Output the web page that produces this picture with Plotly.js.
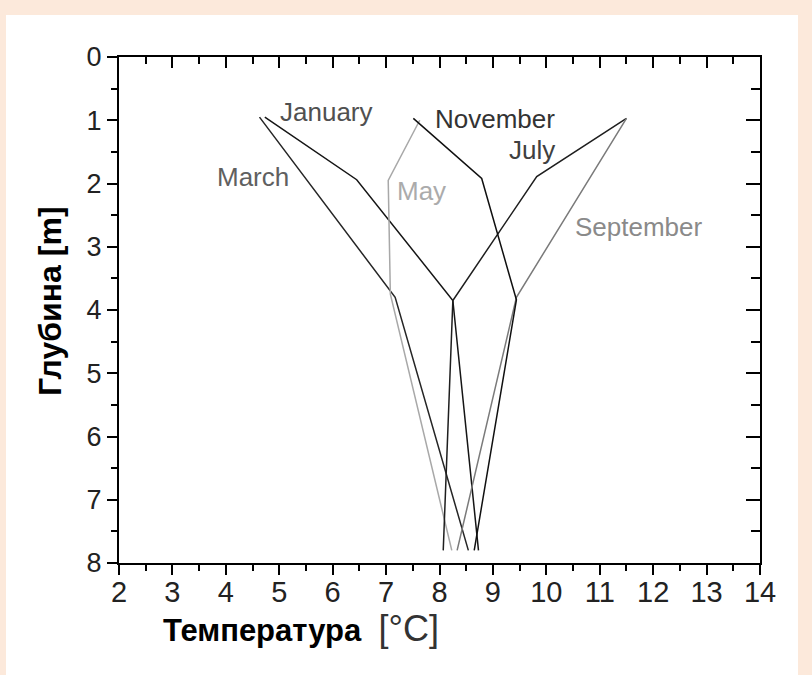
<!DOCTYPE html>
<html>
<head>
<meta charset="utf-8">
<script src="https://cdn.plot.ly/plotly-3.0.1.min.js"></script>
<style>
  html, body { margin: 0; padding: 0; width: 812px; height: 675px; background: #FCE9DB; overflow: hidden; }
  #chart { position: absolute; left: 6px; top: 15px; width: 792px; height: 660px; background: #fff; }
</style>
</head>
<body>
<div id="chart"></div>
<script>
// Series: temperature (°C) vs depth (m)
const seriesNames = ["January", "March", "May", "July", "September", "November"];
const janT = [4.73, 6.45, 8.25, 8.73];
const janD = [0.95, 1.94, 3.85, 7.8];
const marT = [4.63, 7.17, 8.54];
const marD = [0.95, 3.8, 7.8];
const mayT = [7.63, 7.04, 7.08, 8.23];
const mayD = [1.0, 1.95, 3.75, 7.8];
const julT = [11.5, 9.82, 8.25, 8.07];
const julD = [0.97, 1.89, 3.85, 7.8];
const sepT = [11.5, 9.44, 8.33];
const sepD = [0.97, 3.8, 7.8];
const novT = [7.51, 8.79, 9.44, 8.65];
const novD = [0.97, 1.92, 3.84, 7.8];
const xTicks = [2, 3, 4, 5, 6, 7, 8, 9, 10, 11, 12, 13, 14];
const yTicks = [0, 1, 2, 3, 4, 5, 6, 7, 8];
const xTitle = "Температура";
const xUnit = "[°C]";
const yTitle = "Глубина";
const yUnit = "[m]";

const FONT = "Liberation Sans, Arial, sans-serif";

function line(x, y, name, color) {
  return { x: x, y: y, name: name, type: "scatter", mode: "lines",
           line: { color: color, width: 1.5 }, hoverinfo: "skip", showlegend: false };
}

const traces = [
  line(janT, janD, seriesNames[0], "#151515"),
  line(marT, marD, seriesNames[1], "#252525"),
  line(mayT, mayD, seriesNames[2], "#a8a8a8"),
  line(julT, julD, seriesNames[3], "#1e1e1e"),
  line(sepT, sepD, seriesNames[4], "#7a7a7a"),
  line(novT, novD, seriesNames[5], "#101010"),
  { x: [], y: [], xaxis: "x2", yaxis: "y2", type: "scatter", mode: "lines", showlegend: false, hoverinfo: "skip" }
];

const labelSpec = [
  { text: seriesNames[0], x: 5.88, y: 0.87, color: "#505050" },
  { text: seriesNames[1], x: 4.51, y: 1.90, color: "#606060" },
  { text: seriesNames[2], x: 7.66, y: 2.12, color: "#ababab" },
  { text: seriesNames[3], x: 9.73, y: 1.47, color: "#404040" },
  { text: seriesNames[4], x: 11.73, y: 2.69, color: "#8a8a8a" },
  { text: seriesNames[5], x: 9.04, y: 0.98, color: "#333333" }
];

const annotations = labelSpec.map(l => ({
  text: l.text, x: l.x, y: l.y, xref: "x", yref: "y", showarrow: false,
  xanchor: "center", yanchor: "middle",
  font: { family: FONT, size: 26, color: l.color }
}));

annotations.push({
  text: "<b>" + xTitle + "</b>  <span style='font-size:36px;color:#333'>" + xUnit + "</span>",
  xref: "paper", yref: "paper", x: 0.066, y: -0.13, xanchor: "left", yanchor: "middle",
  showarrow: false, font: { family: FONT, size: 31, color: "#000" }
});
annotations.push({
  text: "<b>" + yTitle + " " + yUnit + "</b>",
  xref: "paper", yref: "paper", x: -0.1076, y: 0.516, xanchor: "center", yanchor: "middle",
  textangle: -90, showarrow: false, font: { family: FONT, size: 32, color: "#000" }
});

const common = {
  showgrid: false, zeroline: false, linecolor: "#000", linewidth: 2,
  tickcolor: "#000", tickwidth: 2, dtick: 1
};

const layout = {
  width: 792, height: 660,
  margin: { l: 113, r: 38, t: 42, b: 112 },
  paper_bgcolor: "#ffffff", plot_bgcolor: "#ffffff",
  showlegend: false,
  xaxis: Object.assign({}, common, {
    range: [2, 14], tickvals: xTicks, ticks: "outside", ticklen: 10,
    ticklabelstandoff: -8,
    minor: { dtick: 0.5, ticks: "outside", ticklen: 6, tickwidth: 2, tickcolor: "#000" },
    tickfont: { family: FONT, size: 29, color: "#222" }
  }),
  yaxis: Object.assign({}, common, {
    range: [8, 0], tickvals: yTicks, ticks: "outside", ticklen: 10,
    minor: { dtick: 0.5, ticks: "outside", ticklen: 6, tickwidth: 2, tickcolor: "#000" },
    tickfont: { family: FONT, size: 27, color: "#222" }
  }),
  xaxis2: Object.assign({}, common, {
    overlaying: "x", side: "top", anchor: "y", range: [2, 14], tickvals: xTicks,
    ticks: "inside", ticklen: 11, showticklabels: false,
    minor: { dtick: 0.5, ticks: "inside", ticklen: 7, tickwidth: 2, tickcolor: "#000" }
  }),
  yaxis2: Object.assign({}, common, {
    overlaying: "y", side: "right", anchor: "x", range: [8, 0], tickvals: yTicks,
    ticks: "inside", ticklen: 14, showticklabels: false,
    minor: { dtick: 0.5, ticks: "inside", ticklen: 9, tickwidth: 2, tickcolor: "#000" }
  }),
  annotations: annotations
};

Plotly.newPlot("chart", traces, layout, { staticPlot: true, displayModeBar: false });
</script>
</body>
</html>
